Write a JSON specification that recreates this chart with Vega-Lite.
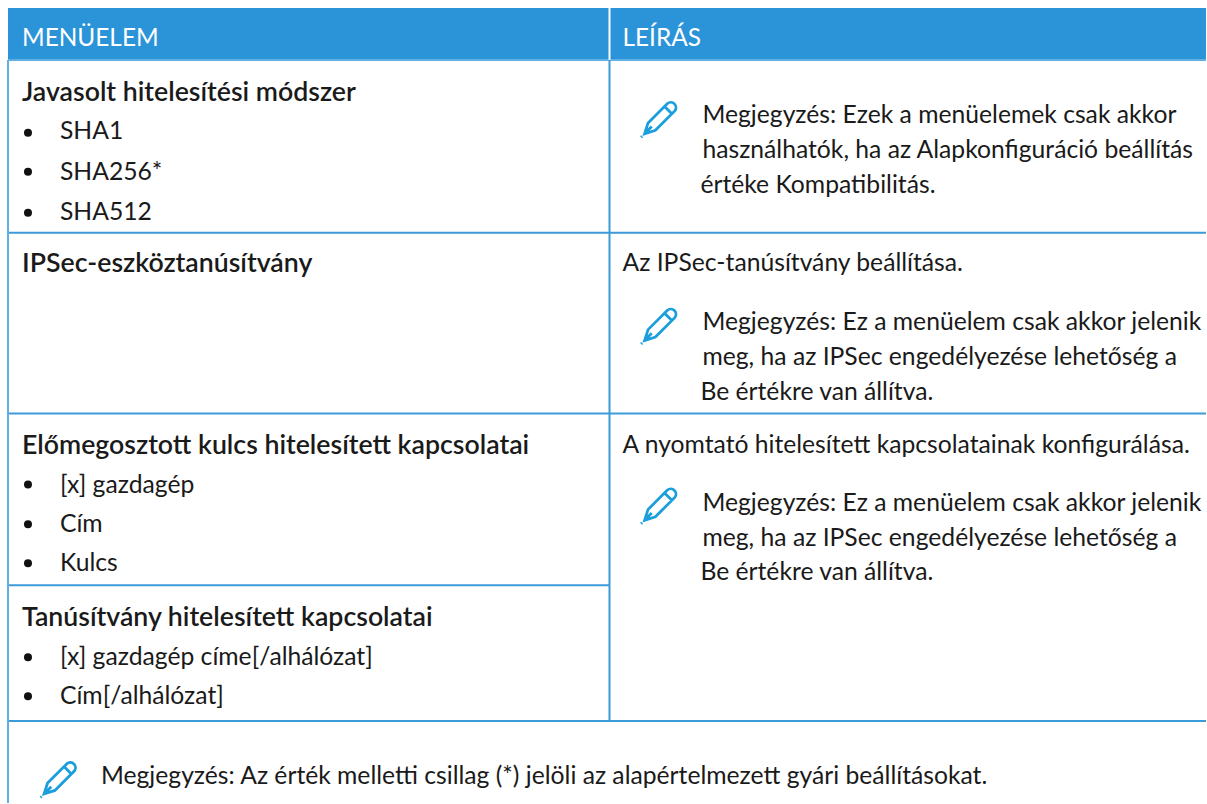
{"$schema":"https://vega.github.io/schema/vega-lite/v6.json","width":1207,"height":804,"padding":0,"autosize":{"type":"fit","contains":"padding"},"background":"white","view":{"stroke":null},"datasets":{"cells":[{"a":8,"b":1207,"t":8,"u":60}],"rules":[{"a":8,"b":610,"t":60,"u":60,"c":"#5fb0e3"},{"a":610,"b":1207,"t":60,"u":60,"c":"#5fb0e3"},{"a":8,"b":1207,"t":233,"u":233,"c":"#3c9ad9"},{"a":8,"b":1207,"t":414,"u":414,"c":"#3c9ad9"},{"a":8,"b":610,"t":586,"u":586,"c":"#3c9ad9"},{"a":8,"b":1207,"t":722,"u":722,"c":"#3c9ad9"},{"a":8,"b":8,"t":60,"u":804,"c":"#5fb0e3"},{"a":610,"b":610,"t":60,"u":722,"c":"#3c9ad9"},{"a":610,"b":610,"t":8,"u":60,"c":"#ffffff"}],"header":[{"x":22,"y":38,"s":"MENÜELEM"},{"x":623,"y":38,"s":"LEÍRÁS"}],"bold":[{"x":22,"y":92,"s":"Javasolt hitelesítési módszer"},{"x":22,"y":263,"s":"IPSec-eszköztanúsítvány"},{"x":22,"y":445,"s":"Előmegosztott kulcs hitelesített kapcsolatai"},{"x":22,"y":617,"s":"Tanúsítvány hitelesített kapcsolatai"}],"body":[{"x":60,"y":131,"s":"SHA1"},{"x":60,"y":172,"s":"SHA256*"},{"x":60,"y":212,"s":"SHA512"},{"x":60,"y":485,"s":"[x] gazdagép"},{"x":60,"y":524,"s":"Cím"},{"x":60,"y":563,"s":"Kulcs"},{"x":60,"y":657,"s":"[x] gazdagép címe[/alhálózat]"},{"x":60,"y":696,"s":"Cím[/alhálózat]"},{"x":703,"y":115,"s":"Megjegyzés: Ezek a menüelemek csak akkor"},{"x":703,"y":150,"s":"használhatók, ha az Alapkonfiguráció beállítás"},{"x":701,"y":185,"s":"értéke Kompatibilitás."},{"x":623,"y":263,"s":"Az IPSec-tanúsítvány beállítása."},{"x":703,"y":322,"s":"Megjegyzés: Ez a menüelem csak akkor jelenik"},{"x":703,"y":357,"s":"meg, ha az IPSec engedélyezése lehetőség a"},{"x":701,"y":392,"s":"Be értékre van állítva."},{"x":623,"y":445,"s":"A nyomtató hitelesített kapcsolatainak konfigurálása."},{"x":703,"y":503,"s":"Megjegyzés: Ez a menüelem csak akkor jelenik"},{"x":703,"y":538,"s":"meg, ha az IPSec engedélyezése lehetőség a"},{"x":701,"y":572,"s":"Be értékre van állítva."},{"x":101,"y":776,"s":"Megjegyzés: Az érték melletti csillag (*) jelöli az alapértelmezett gyári beállításokat."}],"bullets":[{"x":28,"y":133},{"x":28,"y":172},{"x":28,"y":213},{"x":28,"y":485},{"x":28,"y":525},{"x":28,"y":564},{"x":28,"y":658},{"x":28,"y":697}],"pencils":[{"x":661,"y":118},{"x":661,"y":325},{"x":661,"y":505},{"x":60,"y":779}]},"layer":[{"data":{"name":"cells"},"mark":{"type":"rect","color":"#2b93d7"},"encoding":{"x":{"field":"a","type":"quantitative","scale":{"domain":[0,1207],"nice":false,"zero":false},"axis":null},"x2":{"field":"b"},"y":{"field":"t","type":"quantitative","scale":{"domain":[0,804],"reverse":true,"nice":false,"zero":false},"axis":null},"y2":{"field":"u"}}},{"data":{"name":"rules"},"mark":{"type":"rule","strokeWidth":2},"encoding":{"x":{"field":"a","type":"quantitative"},"x2":{"field":"b"},"y":{"field":"t","type":"quantitative"},"y2":{"field":"u"},"color":{"field":"c","type":"nominal","scale":null}}},{"data":{"name":"header"},"mark":{"type":"text","align":"left","baseline":"middle","dy":1,"font":"Lato","fontSize":24.4,"color":"#ffffff"},"encoding":{"x":{"field":"x","type":"quantitative"},"y":{"field":"y","type":"quantitative"},"text":{"field":"s"}}},{"data":{"name":"bold"},"mark":{"type":"text","align":"left","baseline":"middle","dy":1.5,"font":"Lato","fontSize":26.7,"fontWeight":600,"color":"#1a1a1a"},"encoding":{"x":{"field":"x","type":"quantitative"},"y":{"field":"y","type":"quantitative"},"text":{"field":"s"}}},{"data":{"name":"body"},"mark":{"type":"text","align":"left","baseline":"middle","dy":1.5,"font":"Lato","fontSize":24.7,"color":"#1a1a1a"},"encoding":{"x":{"field":"x","type":"quantitative"},"y":{"field":"y","type":"quantitative"},"text":{"field":"s"}}},{"data":{"name":"bullets"},"mark":{"type":"point","shape":"circle","filled":true,"size":64,"color":"#111111","opacity":1},"encoding":{"x":{"field":"x","type":"quantitative"},"y":{"field":"y","type":"quantitative"}}},{"data":{"name":"pencils"},"mark":{"type":"point","filled":false,"size":1500,"strokeWidth":2.8,"color":"#1a9fdc","opacity":1,"shape":"M-0.64,0.26L0.36,-0.74A0.27,0.27,0,0,1,0.74,-0.36L-0.26,0.64L-0.82,0.82ZM0.21,-0.59L0.59,-0.21M-0.72,0.72L-0.45,0.45M-1,1L-0.95,0.95"},"encoding":{"x":{"field":"x","type":"quantitative"},"y":{"field":"y","type":"quantitative"}}}]}
